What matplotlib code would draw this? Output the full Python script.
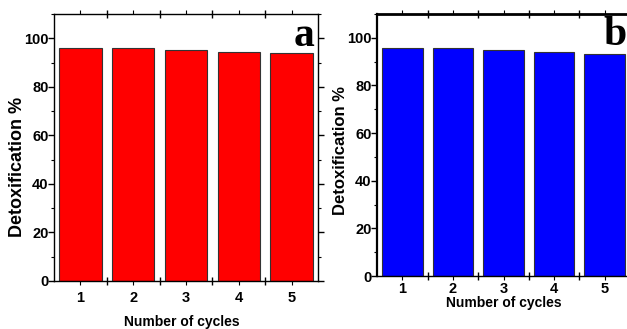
import matplotlib
matplotlib.use("Agg")
import matplotlib.pyplot as plt
from matplotlib.ticker import MultipleLocator, FixedLocator

cycles = [1, 2, 3, 4, 5]
cycle_labels = ["1", "2", "3", "4", "5"]
detox_a = [95.9, 95.9, 95.0, 94.5, 94.0]
detox_b = [95.8, 95.8, 94.8, 94.0, 93.0]

W, H = 627, 329
fig = plt.figure(figsize=(W / 100, H / 100), dpi=100)

sans = ["Liberation Sans", "DejaVu Sans"]


def panel(rect, values, color, letter, ylab_xy, xlab_xy, xpad, ylab_size, thick_top=False):
    ax = fig.add_axes(rect)
    ax.bar(cycles, values, width=0.8, color=color, edgecolor="#333333", linewidth=0.8, zorder=2)
    ax.set_xlim(0.5, 5.5)
    ax.set_ylim(0, 110)
    ax.yaxis.set_major_locator(MultipleLocator(20))
    ax.yaxis.set_minor_locator(MultipleLocator(10))
    ax.xaxis.set_major_locator(FixedLocator([1.5, 2.5, 3.5, 4.5]))
    ax.set_xticklabels([])
    ax.set_xticks(cycles, minor=True)
    ax.set_xticklabels(cycle_labels, minor=True, fontweight="bold", fontsize=10.5, family=sans)
    ax.tick_params(axis="x", which="major", direction="inout", length=6, width=1, top=True)
    ax.tick_params(axis="x", which="minor", direction="out", length=3, width=0.8, top=True, pad=xpad)
    ax.tick_params(axis="y", which="major", direction="out", length=4, width=1, right=True, pad=0)
    ax.tick_params(axis="y", which="minor", direction="out", length=2.5, width=0.8, right=True)
    for lab in ax.get_yticklabels():
        lab.set_fontweight("bold")
        lab.set_fontsize(10.5)
        lab.set_family(sans)
    for s in ax.spines.values():
        s.set_linewidth(1.0)
    if thick_top:
        ax.spines["top"].set_linewidth(2.0)
        ax.spines["left"].set_linewidth(1.6)
    ax.set_ylabel("Detoxification %", fontweight="bold", fontsize=ylab_size, family=sans, va="center")
    ax.yaxis.set_label_coords(*ylab_xy)
    ax.set_xlabel("Number of cycles", fontweight="bold", fontsize=10, family=sans, va="center")
    ax.xaxis.set_label_coords(*xlab_xy)
    ax.text(0.985, 0.88, letter, transform=ax.transAxes, ha="right", va="baseline",
            fontsize=30, fontweight="bold", family=["Liberation Serif", "DejaVu Serif"])
    return ax


panel([54 / W, 1 - 281 / H, 264 / W, 267 / H], detox_a, "#ff0000", "a",
      (-0.14, 0.427), (0.485, -0.154), 4.0, 13)
panel([377 / W, 1 - 276 / H, 253 / W, 262 / H], detox_b, "#0000ff", "b",
      (-0.146, 0.48), (0.502, -0.103), 1.0, 12, thick_top=True)

fig.savefig("out.png", dpi=100)
